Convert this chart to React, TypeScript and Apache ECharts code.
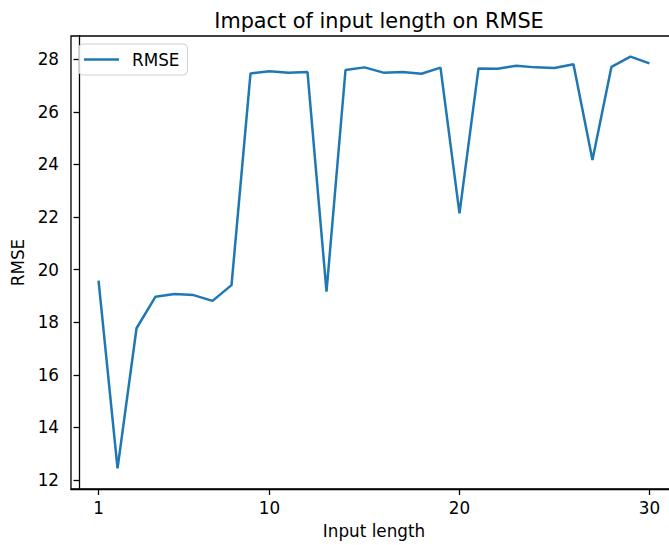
import React, { useEffect, useRef } from "react";
import * as echarts from "echarts";

const inputLengths = [
  1, 2, 3, 4, 5, 6, 7, 8, 9, 10, 11, 12, 13, 14, 15, 16, 17, 18, 19, 20, 21, 22,
  23, 24, 25, 26, 27, 28, 29, 30,
];
const rmseValues = [
  19.58, 12.44, 17.77, 18.97, 19.07, 19.03, 18.81, 19.41, 27.46, 27.54, 27.49,
  27.51, 19.16, 27.59, 27.69, 27.49, 27.51, 27.45, 27.68, 22.14, 27.65, 27.64,
  27.75, 27.69, 27.67, 27.81, 24.17, 27.71, 28.1, 27.84,
];
const xTicks = [1, 10, 20, 30];
const yTicks = [12, 14, 16, 18, 20, 22, 24, 26, 28];

const FONT = "DejaVu Sans";
const TICK_FONT = 16.8;

export default function App() {
  const ref = useRef<HTMLDivElement>(null);
  useEffect(() => {
    const chart = echarts.init(ref.current!, null, { renderer: "svg" });
    const xMin = Math.min(...inputLengths);
    const xMax = Math.max(...inputLengths);
    const xPad = 0.05 * (xMax - xMin);
    const yMin = Math.min(...rmseValues);
    const yMax = Math.max(...rmseValues);
    const yPad = 0.05 * (yMax - yMin);
    const axisCommon = {
      axisLine: { show: true, lineStyle: { color: "#000", width: 1.3 } },
      axisTick: { show: true, length: 6, lineStyle: { color: "#000", width: 1.3 } },
      splitLine: { show: false },
      nameTextStyle: { fontFamily: FONT, fontSize: TICK_FONT, color: "#000" },
    };
    chart.setOption({
      animation: false,
      backgroundColor: "#fff",
      title: {
        text: "Impact of input length on RMSE",
        left: 374,
        top: 5,
        textAlign: "center",
        textStyle: { fontFamily: FONT, fontSize: 20.8, fontWeight: "normal", color: "#000" },
      },
      legend: {
        left: 79,
        top: 44,
        padding: [7, 8, 7, 5],
        itemWidth: 35,
        itemHeight: 2.5,
        icon: "rect",
        borderColor: "#d0d0d0",
        borderWidth: 1,
        borderRadius: 4,
        backgroundColor: "rgba(255,255,255,0.8)",
        textStyle: { fontFamily: FONT, fontSize: TICK_FONT, color: "#000", padding: [0, 0, 0, 8] },
        data: ["RMSE"],
      },
      grid: {
        left: 71,
        top: 36,
        width: 606,
        height: 453,
        show: true,
        borderColor: "#000",
        borderWidth: 1.3,
        containLabel: false,
        outerBoundsMode: "none",
      },
      xAxis: {
        type: "value",
        min: xMin - xPad,
        max: xMax + xPad,
        name: "Input length",
        nameLocation: "middle",
        nameGap: 33,
        ...axisCommon,
        axisTick: { ...axisCommon.axisTick, customValues: xTicks },
        axisLabel: {
          customValues: xTicks,
          margin: 10,
          fontFamily: FONT,
          fontSize: TICK_FONT,
          color: "#000",
        },
      },
      yAxis: {
        type: "value",
        min: yMin - yPad,
        max: yMax + yPad,
        name: "RMSE",
        nameLocation: "middle",
        nameGap: 42,
        ...axisCommon,
        axisTick: { ...axisCommon.axisTick, customValues: yTicks },
        axisLabel: {
          customValues: yTicks,
          margin: 12,
          fontFamily: FONT,
          fontSize: TICK_FONT,
          color: "#000",
        },
      },
      series: [
        {
          name: "RMSE",
          type: "line",
          data: inputLengths.map((x, i) => [x, rmseValues[i]]),
          symbol: "none",
          lineStyle: { color: "#1f77b4", width: 2.5 },
          itemStyle: { color: "#1f77b4" },
        },
      ],
    });
    return () => chart.dispose();
  }, []);
  return (
    <div
      ref={ref}
      style={{ position: "absolute", left: 0, top: 0, width: 669, height: 545 }}
    />
  );
}
